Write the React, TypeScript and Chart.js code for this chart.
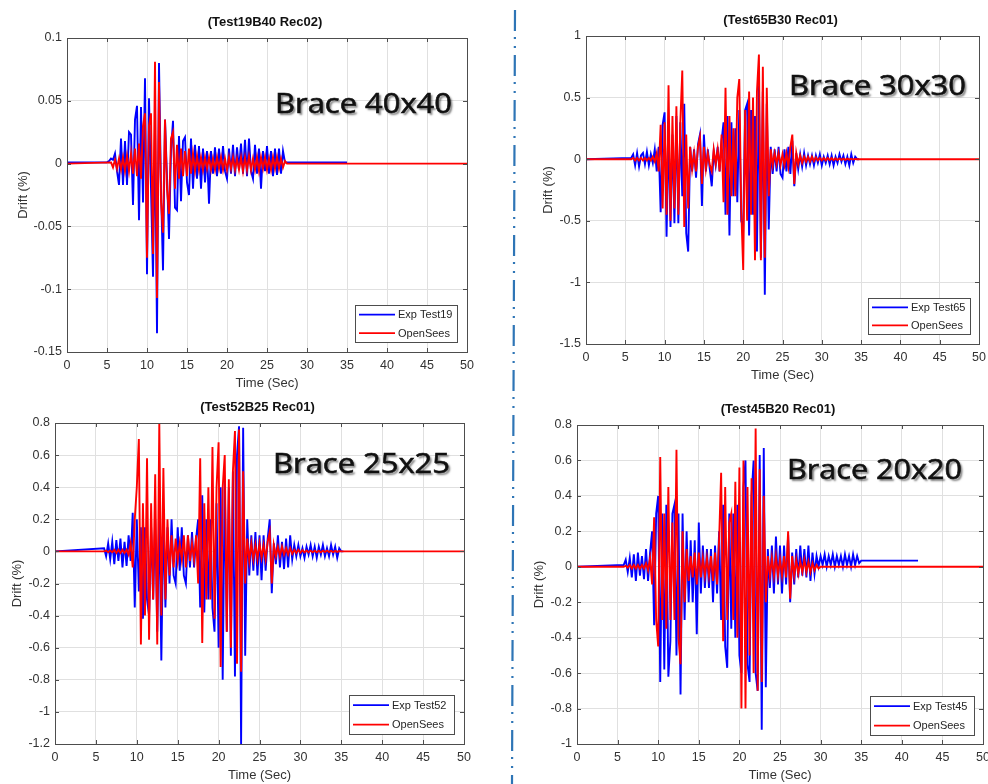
import React, { useEffect, useRef } from "react";
import { Chart, registerables } from "chart.js";
Chart.register(...registerables);

// sampling interval of the digitised records (s)
const DT = 0.25;
const xTicks = [0, 5, 10, 15, 20, 25, 30, 35, 40, 45, 50];

// ---------- Panel 1: Test19B40 Rec02 ----------
const exp19Start = 5.0;
const exp19 = [
  0.001, 0.002, 0.004, 0.003,
  0.008, -0.006, -0.017, 0.020,
  -0.017, 0.018, -0.017, 0.025,
  0.023, -0.033, 0.035, 0.046,
  -0.045, 0.045, -0.031, 0.068,
  -0.088, 0.052, -0.020, -0.090,
  0.030, -0.135, 0.080, -0.020,
  -0.085, 0.035, -0.010, -0.060,
  0.010, 0.034, -0.035, -0.037,
  0.022, -0.030, 0.018, 0.021,
  -0.015, -0.025, 0.020, -0.020,
  0.015, -0.012, 0.014, -0.020,
  0.012, -0.015, 0.010, -0.032,
  0.010, -0.008, 0.013, -0.010,
  0.012, -0.008, 0.014, -0.006,
  -0.012, 0.012, -0.008, 0.015,
  -0.010, 0.013, -0.005, 0.016,
  -0.008, 0.019, -0.010, 0.020,
  -0.006, -0.012, 0.015, -0.008,
  0.012, -0.020, 0.010, -0.006,
  0.014, -0.008, 0.010, -0.010,
  0.012, -0.009, 0.012, -0.008,
  0.010,
];
const ops19Start = 5.5;
const ops19 = [
  0.001, -0.003,
  0.003, -0.004, 0.004, -0.005,
  0.005, -0.006, 0.006, -0.006,
  0.008, -0.008, 0.012, -0.010,
  0.016, -0.012, 0.030, 0.040,
  -0.075, 0.030, 0.040, -0.072,
  0.081, -0.107, 0.065, -0.030,
  -0.055, 0.035, -0.020, -0.040,
  0.020, 0.025, -0.020, 0.015,
  -0.012, 0.012, -0.010, 0.010,
  -0.010, 0.012, -0.008, 0.008,
  -0.006, 0.006, -0.005, 0.005,
  -0.005, 0.005, -0.004, 0.005,
  -0.005, 0.004, -0.005, 0.005,
  -0.004, 0.005, -0.005, 0.004,
  -0.005, 0.005, -0.004, 0.005,
  -0.005, 0.004, -0.005, 0.005,
  -0.006, 0.005, -0.005, 0.006,
  -0.005, 0.004, -0.005, 0.005,
  -0.006, 0.005, -0.004, 0.005,
  -0.005, 0.004, -0.005, 0.005,
  -0.004, 0.005, -0.004, 0.004,
  -0.003, 0.002,
];
const y19Ticks = [-0.15, -0.1, -0.05, 0, 0.05, 0.1];

// ---------- Panel 2: Test65B30 Rec01 ----------
const exp65Start = 5.75;
const exp65 = [
  0.01,
  0.04, -0.05, 0.05, -0.06,
  0.03, 0.05, -0.04, 0.06,
  -0.05, 0.04, -0.03, 0.08,
  -0.1, 0.1, -0.43, 0.28,
  0.38, -0.63, 0.25, -0.55,
  0.2, -0.52, 0.35, -0.52,
  0.3, -0.3, 0.45, -0.6,
  -0.75, 0.1, -0.1, 0.08,
  -0.15, 0.12, 0.2, -0.38,
  0.2, -0.1, 0.08, -0.08,
  -0.22, 0.06, -0.05, 0.1,
  -0.1, 0.15, 0.3, -0.45,
  0.35, -0.62, 0.3, -0.3,
  0.25, -0.35, 0.4, -0.5,
  -0.55, 0.4, 0.45, -0.62,
  0.4, -0.45, 0.35, -0.75,
  0.6, -0.8, 0.55, -1.1,
  0.45, -0.57, 0.1, -0.12,
  0.08, -0.1, 0.1, -0.12,
  -0.15, 0.08, -0.1, 0.1,
  -0.12, 0.15, -0.22, 0.05,
  -0.08, 0.04, -0.06, 0.05,
  -0.05, 0.03, -0.04, 0.03,
  -0.05, 0.03, -0.03, 0.04,
  -0.05, 0.02, -0.03, 0.03,
  -0.04, 0.03, -0.05, 0.02,
  -0.03, 0.04, -0.02, 0.03,
  -0.04, 0.02, -0.05, 0.04,
  -0.03, 0.02, 0.0,
];
const ops65Start = 5.75;
const ops65 = [
  0.0,
  0.01, -0.01, 0.01, -0.01,
  0.01, -0.01, 0.01, -0.01,
  0.01, -0.01, 0.02, -0.02,
  0.05, -0.1, 0.28, -0.4,
  0.3, -0.45, 0.6, -0.5,
  0.35, -0.4, 0.43, -0.45,
  0.3, 0.72, -0.55, 0.2,
  -0.4, 0.1, -0.08, 0.05,
  -0.1, 0.1, 0.18, -0.2,
  0.1, -0.08, 0.05, -0.05,
  -0.1, 0.08, -0.04, 0.08,
  -0.1, 0.2, -0.35, 0.58,
  -0.45, 0.35, -0.3, 0.25,
  -0.3, 0.5, 0.65, -0.4,
  -0.9, 0.4, -0.5, 0.55,
  -0.45, 0.5, -0.82, 0.55,
  0.85, -0.82, 0.75, -0.8,
  0.58, -0.3, 0.08, -0.05,
  0.05, -0.04, 0.05, -0.05,
  0.04, -0.05, 0.05, -0.06,
  0.1, 0.2, -0.2, 0.05,
  -0.04, 0.03, -0.03, 0.02,
  -0.02, 0.02, -0.02, 0.02,
  -0.015, 0.015, -0.01, 0.01,
  -0.01, 0.01, -0.01, 0.01,
  -0.008, 0.008, -0.008, 0.008,
  -0.006, 0.006, -0.005, 0.005,
  -0.005, 0.005, -0.004, 0.004,
  -0.003, 0.002, 0.0,
];
const y65Ticks = [-1.5, -1, -0.5, 0, 0.5, 1];

// ---------- Panel 3: Test52B25 Rec01 ----------
const exp52Start = 6.0;
const exp52 = [
  0.02, -0.03, 0.05, -0.05,
  0.06, -0.08, 0.07, -0.06,
  0.08, -0.1, 0.06, -0.09,
  0.1, -0.06, 0.24, -0.35,
  0.2, -0.25, 0.15, -0.42,
  0.15, -0.3, -0.4, 0.15,
  -0.3, 0.2, -0.5, 0.25,
  -0.68, 0.2, -0.35, 0.15,
  -0.2, 0.2, -0.15, -0.2,
  0.15, -0.12, 0.15, -0.15,
  -0.2, 0.1, -0.1, 0.12,
  -0.1, 0.08, 0.2, -0.35,
  0.35, -0.38, 0.2, -0.3,
  0.2, -0.35, -0.5, 0.3,
  -0.6, 0.4, -0.8, 0.45,
  -0.5, 0.4, -0.65, 0.5,
  -0.78, 0.6, 0.78, -1.2,
  0.77, -0.65, 0.2, -0.15,
  0.1, -0.12, 0.12, -0.15,
  0.1, -0.18, 0.1, -0.12,
  0.08, 0.2, -0.26, 0.05,
  -0.08, 0.1, -0.1, 0.06,
  -0.11, 0.08, -0.1, 0.1,
  -0.05, 0.04, -0.03, 0.04,
  -0.03, 0.02, -0.04, 0.03,
  -0.02, 0.04, -0.03, 0.03,
  -0.04, 0.03, -0.02, 0.04,
  -0.03, 0.02, -0.03, 0.04,
  -0.02, 0.03, -0.04, 0.02,
  0.0,
];
const ops52Start = 6.0;
const ops52 = [
  0.0, 0.005, -0.005, 0.005,
  -0.005, 0.01, -0.01, 0.01,
  -0.01, 0.01, -0.01, 0.01,
  -0.02, 0.05, -0.1, 0.2,
  0.4, 0.7, -0.58, 0.3,
  -0.4, 0.58, -0.55, 0.3,
  -0.3, 0.48, -0.58, 0.8,
  -0.4, 0.52, -0.3, 0.2,
  -0.15, 0.1, -0.1, 0.08,
  -0.06, 0.05, -0.05, 0.1,
  -0.1, 0.1, -0.06, 0.05,
  -0.05, 0.1, -0.2, 0.58,
  -0.57, 0.3, -0.3, 0.4,
  -0.3, 0.65, -0.42, 0.4,
  0.68, -0.72, 0.4, 0.6,
  -0.5, 0.45, -0.6, 0.5,
  0.75, -0.7, 0.76, -0.75,
  0.5, -0.2, 0.08, -0.06,
  0.05, -0.05, 0.04, -0.05,
  0.05, -0.04, 0.04, -0.05,
  0.06, 0.12, -0.2, 0.04,
  -0.03, 0.03, -0.03, 0.03,
  -0.02, 0.02, -0.02, 0.02,
  -0.015, 0.01, -0.01, 0.01,
  -0.008, 0.008, -0.006, 0.006,
  -0.005, 0.005, -0.005, 0.005,
  -0.005, 0.004, -0.005, 0.005,
  -0.004, 0.005, -0.004, 0.004,
  -0.004, 0.003, -0.003, 0.002,
  0.0,
];
const y52Ticks = [-1.2, -1, -0.8, -0.6, -0.4, -0.2, 0, 0.2, 0.4, 0.6, 0.8];

// ---------- Panel 4: Test45B20 Rec01 ----------
const exp45Start = 5.75;
const exp45 = [
  0.01,
  0.04, -0.03, 0.05, -0.06,
  0.07, -0.08, 0.08, -0.05,
  0.06, -0.07, 0.1, -0.08,
  0.08, 0.2, -0.33, 0.3,
  0.4, -0.65, 0.3, -0.58,
  0.35, -0.62, -0.42, 0.3,
  0.35, -0.5, 0.3, -0.72,
  0.3, -0.3, 0.2, -0.2,
  0.15, -0.2, 0.15, -0.38,
  0.25, -0.15, 0.12, -0.12,
  0.1, -0.12, 0.1, -0.2,
  0.12, -0.15, 0.2, -0.3,
  0.35, -0.45, -0.57, 0.3,
  -0.35, 0.3, -0.4, 0.35,
  -0.5, -0.6, 0.45, 0.6,
  -0.55, -0.65, 0.4, 0.6,
  -0.6, -0.7, 0.63, -0.92,
  0.67, -0.68, 0.1, -0.12,
  0.12, -0.15, 0.17, -0.1,
  0.12, -0.15, 0.12, -0.1,
  0.18, -0.2, 0.08, -0.1,
  0.1, -0.06, 0.12, -0.05,
  0.1, -0.06, 0.12, -0.08,
  0.08, -0.04, 0.06, 0.0,
  0.06, 0.01, 0.07, 0.0,
  0.06, 0.01, 0.07, 0.0,
  0.06, 0.01, 0.06, 0.0,
  0.07, 0.01, 0.06, 0.0,
  0.07, 0.01, 0.06, 0.02,
  0.035,
];
const ops45Start = 5.75;
const ops45 = [
  0.0,
  0.005, -0.005, 0.01, -0.01,
  0.01, -0.01, 0.01, -0.01,
  0.01, -0.01, 0.02, -0.02,
  0.05, -0.1, 0.28, -0.3,
  -0.45, 0.62, -0.3, 0.3,
  -0.35, 0.45, -0.3, 0.25,
  -0.3, 0.66, -0.4, -0.55,
  0.2, -0.2, 0.1, -0.08,
  0.06, -0.06, 0.08, -0.1,
  0.08, -0.06, 0.05, -0.05,
  0.05, -0.05, 0.06, -0.08,
  0.08, -0.1, 0.15, 0.53,
  -0.42, 0.45, -0.3, 0.25,
  0.3, -0.3, 0.48, -0.4,
  0.56, -0.8, 0.6, -0.8,
  0.45, -0.5, 0.5, -0.6,
  0.78, -0.7, 0.55, -0.65,
  0.4, -0.2, 0.06, -0.05,
  0.05, -0.05, 0.06, -0.05,
  0.04, -0.05, 0.06, -0.06,
  0.2, -0.18, 0.06, -0.05,
  0.04, -0.04, 0.03, -0.03,
  0.04, -0.03, 0.03, -0.03,
  0.02, -0.02, 0.01, -0.01,
  0.0,
];
const y45Ticks = [-1, -0.8, -0.6, -0.4, -0.2, 0, 0.2, 0.4, 0.6, 0.8];

type Pt = { x: number; y: number };
function record(start: number, vals: number[], pre: number, post: number, end: number): Pt[] {
  const pts: Pt[] = [{ x: 0, y: pre }];
  vals.forEach((v, i) => pts.push({ x: start + i * DT, y: v }));
  const last = start + (vals.length - 1) * DT;
  pts.push({ x: last + DT, y: post });
  pts.push({ x: end, y: post });
  return pts;
}

const fmt = (v: number) => {
  const r = Math.round(v * 1000) / 1000;
  return String(r === 0 ? 0 : r);
};

const FONT = '"Liberation Sans", Arial, Helvetica, sans-serif';

const panels = [
  {
    title: "(Test19B40 Rec02)", brace: "Brace 40x40", expLabel: "Exp Test19",
    exp: record(exp19Start, exp19, 0.001, 0.001, 35), ops: record(ops19Start, ops19, 0, 0, 50),
    yMin: -0.15, yMax: 0.1, yTicks: y19Ticks,
    box: { x: 0, y: 0, w: 487, h: 392 }, plot: { l: 67, t: 38, r: 467, b: 352 },
    yTitleOff: 44, braceRight: 15, braceBase: 75, braceW: 177,
    leg: { gr: 10, gb: 10, w: 102, h: 37 },
  },
  {
    title: "(Test65B30 Rec01)", brace: "Brace 30x30", expLabel: "Exp Test65",
    exp: record(exp65Start, exp65, 0, 0, 34.75), ops: record(ops65Start, ops65, 0, 0, 50),
    yMin: -1.5, yMax: 1, yTicks: y65Ticks,
    box: { x: 520, y: 0, w: 479, h: 392 }, plot: { l: 586, t: 36, r: 979, b: 344 },
    yTitleOff: 38, braceRight: 13, braceBase: 59, braceW: 177,
    leg: { gr: 9, gb: 10, w: 102, h: 36 },
  },
  {
    title: "(Test52B25 Rec01)", brace: "Brace 25x25", expLabel: "Exp Test52",
    exp: record(exp52Start, exp52, 0, 0, 35), ops: record(ops52Start, ops52, 0, 0, 50),
    yMin: -1.2, yMax: 0.8, yTicks: y52Ticks,
    box: { x: 0, y: 392, w: 484, h: 392 }, plot: { l: 55, t: 423, r: 464, b: 744 },
    yTitleOff: 38, braceRight: 14, braceBase: 50, braceW: 177,
    leg: { gr: 10, gb: 10, w: 105, h: 39 },
  },
  {
    title: "(Test45B20 Rec01)", brace: "Brace 20x20", expLabel: "Exp Test45",
    exp: record(exp45Start, exp45, 0, 0.035, 42), ops: record(ops45Start, ops45, 0, 0, 50),
    yMin: -1, yMax: 0.8, yTicks: y45Ticks,
    box: { x: 520, y: 392, w: 483, h: 392 }, plot: { l: 577, t: 425, r: 983, b: 744 },
    yTitleOff: 38, braceRight: 21, braceBase: 54, braceW: 175,
    leg: { gr: 9, gb: 9, w: 104, h: 39 },
  },
];

type Cfg = (typeof panels)[number];

function decorPlugin(cfg: Cfg) {
  return {
    id: "decor",
    afterDraw(chart: any) {
      const ctx: CanvasRenderingContext2D = chart.ctx;
      const a = chart.chartArea;
      const xs = chart.scales.x;
      const ys = chart.scales.y;
      ctx.save();
      // axes box
      ctx.strokeStyle = "#4d4d4d";
      ctx.lineWidth = 1;
      ctx.strokeRect(Math.round(a.left) + 0.5, Math.round(a.top) + 0.5, Math.round(a.right - a.left), Math.round(a.bottom - a.top));
      // inward tick marks
      ctx.beginPath();
      xTicks.forEach((v) => {
        const px = Math.round(xs.getPixelForValue(v)) + 0.5;
        ctx.moveTo(px, a.bottom); ctx.lineTo(px, a.bottom - 4);
        ctx.moveTo(px, a.top); ctx.lineTo(px, a.top + 4);
      });
      cfg.yTicks.forEach((v) => {
        const py = Math.round(ys.getPixelForValue(v)) + 0.5;
        ctx.moveTo(a.left, py); ctx.lineTo(a.left + 4, py);
        ctx.moveTo(a.right, py); ctx.lineTo(a.right - 4, py);
      });
      ctx.stroke();

      // title
      ctx.fillStyle = "#111";
      ctx.textAlign = "center";
      ctx.textBaseline = "middle";
      ctx.font = `bold 13px ${FONT}`;
      ctx.fillText(cfg.title, (a.left + a.right) / 2 - 2, a.top - 16);
      // axis titles
      ctx.fillStyle = "#333";
      ctx.font = `13px ${FONT}`;
      ctx.fillText("Time (Sec)", (a.left + a.right) / 2, a.bottom + 31);
      ctx.save();
      ctx.translate(a.left - cfg.yTitleOff, (a.top + a.bottom) / 2);
      ctx.rotate(-Math.PI / 2);
      ctx.fillText("Drift (%)", 0, 0);
      ctx.restore();

      // legend
      const L = cfg.leg;
      const lx = Math.round(a.right - L.gr - L.w);
      const ly = Math.round(a.bottom - L.gb - L.h);
      ctx.fillStyle = "#fff";
      ctx.fillRect(lx, ly, L.w, L.h);
      ctx.strokeStyle = "#4d4d4d";
      ctx.lineWidth = 1;
      ctx.strokeRect(lx + 0.5, ly + 0.5, L.w, L.h);
      const rows = [ly + L.h * 0.26, ly + L.h * 0.76];
      chart.data.datasets.forEach((ds: any, i: number) => {
        const ry = rows[i];
        ctx.strokeStyle = ds.borderColor;
        ctx.lineWidth = 1.8;
        ctx.beginPath();
        ctx.moveTo(lx + 4, ry);
        ctx.lineTo(lx + 40, ry);
        ctx.stroke();
        ctx.fillStyle = "#262626";
        ctx.font = `11px ${FONT}`;
        ctx.textAlign = "left";
        ctx.fillText(ds.label, lx + 43, ry + 0.5);
      });

      // brace annotation
      ctx.font = '27px "Open Sans", "Noto Sans", sans-serif';
      const m = ctx.measureText(cfg.brace).width;
      const sx = cfg.braceW / m;
      ctx.save();
      ctx.translate(a.right - cfg.braceRight - cfg.braceW, a.top + cfg.braceBase);
      ctx.scale(sx, 1);
      ctx.textAlign = "left";
      ctx.textBaseline = "alphabetic";
      ctx.shadowColor = "rgba(0,0,0,0.5)";
      ctx.shadowOffsetX = 2;
      ctx.shadowOffsetY = 2;
      ctx.shadowBlur = 2;
      ctx.fillStyle = "#111";
      ctx.strokeStyle = "#111";
      ctx.lineWidth = 0.6;
      ctx.fillText(cfg.brace, 0, 0);
      ctx.shadowColor = "transparent";
      ctx.strokeText(cfg.brace, 0, 0);
      ctx.restore();
      ctx.restore();
    },
  };
}

function Panel({ cfg }: { cfg: Cfg }) {
  const ref = useRef<HTMLCanvasElement>(null);
  useEffect(() => {
    const { box, plot } = cfg;
    const tickFont = { family: FONT, size: 12.5 };
    const chart = new Chart(ref.current as HTMLCanvasElement, {
      type: "line",
      data: {
        datasets: [
          { label: cfg.expLabel, data: cfg.exp, borderColor: "#0000ff", backgroundColor: "#0000ff", borderWidth: 1.9, pointRadius: 0, tension: 0, order: 1 },
          { label: "OpenSees", data: cfg.ops, borderColor: "#ff0000", backgroundColor: "#ff0000", borderWidth: 1.9, pointRadius: 0, tension: 0, order: 0 },
        ] as any,
      },
      options: {
        responsive: false,
        animation: false,
        events: [],
        layout: { padding: { left: 0, top: plot.t - box.y, right: box.x + box.w - plot.r, bottom: 0 } },
        plugins: { legend: { display: false }, tooltip: { enabled: false }, title: { display: false } },
        scales: {
          x: {
            type: "linear", min: 0, max: 50,
            afterFit: (s: any) => { s.height = box.y + box.h - plot.b; },
            afterBuildTicks: (s: any) => { s.ticks = xTicks.map((v) => ({ value: v })); },
            grid: { color: "#e0e0e0", drawTicks: false },
            border: { display: false },
            ticks: { padding: 6, color: "#333", font: tickFont, maxRotation: 0, autoSkip: false, callback: (v: any) => fmt(Number(v)) },
          },
          y: {
            type: "linear", min: cfg.yMin, max: cfg.yMax,
            afterFit: (s: any) => { s.width = plot.l - box.x; },
            afterBuildTicks: (s: any) => { s.ticks = cfg.yTicks.map((v) => ({ value: v })); },
            grid: { color: "#e0e0e0", drawTicks: false },
            border: { display: false },
            ticks: { padding: 5, color: "#333", font: tickFont, autoSkip: false, callback: (v: any) => fmt(Number(v)) },
          },
        },
      } as any,
      plugins: [decorPlugin(cfg)],
    });
    return () => chart.destroy();
  }, [cfg]);
  return (
    <canvas
      ref={ref}
      width={cfg.box.w}
      height={cfg.box.h}
      style={{ position: "absolute", left: cfg.box.x, top: cfg.box.y, width: cfg.box.w, height: cfg.box.h }}
    />
  );
}

export default function App() {
  return (
    <div style={{ position: "absolute", left: 0, top: 0, width: 988, height: 784, overflow: "hidden", background: "#fff" }}>
      {panels.map((p) => (
        <Panel key={p.title} cfg={p} />
      ))}
      <svg style={{ position: "absolute", left: 0, top: 0 }} width={988} height={784}>
        <line x1={515} y1={10} x2={512} y2={784} stroke="#2e75b6" strokeWidth={2.2} strokeDasharray="21 6 2 7 2 7" />
      </svg>
    </div>
  );
}
